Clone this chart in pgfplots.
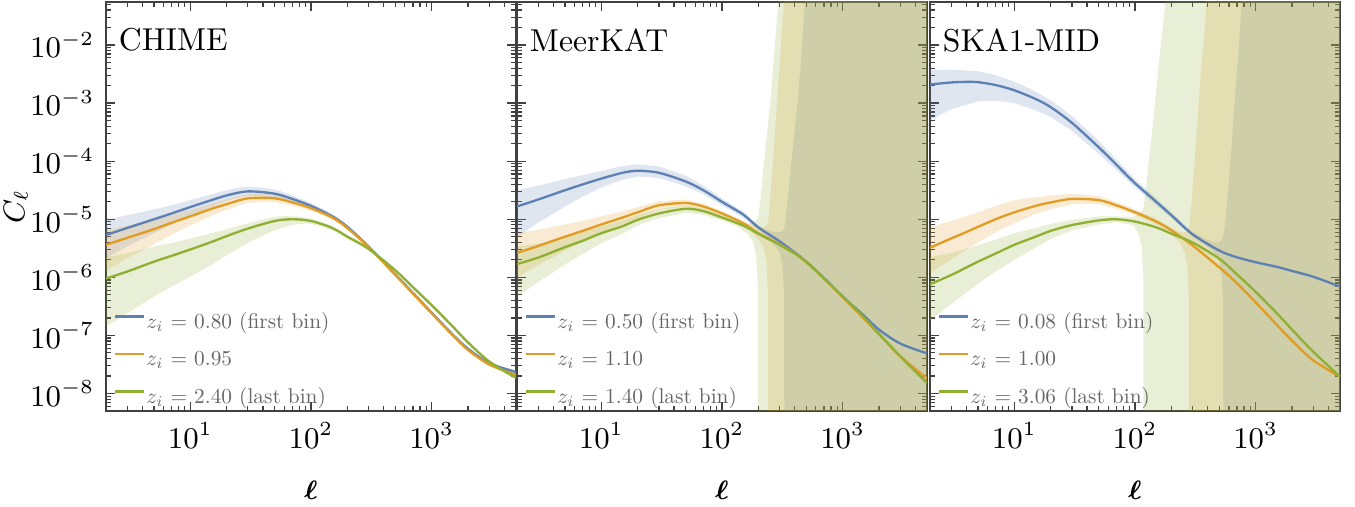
\documentclass[border=0pt]{standalone}
\usepackage{amsmath}
\usepackage{graphicx}
\usepackage{pgfplots}
\pgfplotsset{compat=1.18}
\usepackage{pgfplotstable}
\usepgfplotslibrary{fillbetween}

\definecolor{cb}{RGB}{94,129,181}
\definecolor{co}{RGB}{225,156,36}
\definecolor{cg}{RGB}{143,176,50}

% values are log10(C_ell)
\pgfplotstableread{
l b o g bh bl oh ol gh gl
2 -5.27 -5.44 -6.02 -5.01 -5.67 -5.19 -5.89 -5.65 -6.85
3 -5.15 -5.32 -5.90 -4.93 -5.47 -5.11 -5.67 -5.58 -6.62
5 -5.00 -5.17 -5.73 -4.83 -5.24 -5.01 -5.43 -5.47 -6.33
7 -4.90 -5.06 -5.63 -4.76 -5.09 -4.93 -5.26 -5.41 -6.16
10 -4.79 -4.95 -5.52 -4.67 -4.94 -4.84 -5.11 -5.33 -5.99
15 -4.67 -4.82 -5.39 -4.57 -4.79 -4.73 -4.94 -5.24 -5.78
20 -4.59 -4.74 -5.29 -4.50 -4.69 -4.66 -4.84 -5.17 -5.62
30 -4.52 -4.64 -5.16 -4.44 -4.60 -4.57 -4.72 -5.07 -5.41
50 -4.56 -4.64 -5.03 -4.49 -4.63 -4.58 -4.71 -4.96 -5.19
70 -4.65 -4.71 -5.00 -4.59 -4.71 -4.66 -4.77 -4.95 -5.10
100 -4.77 -4.81 -5.03 -4.72 -4.82 -4.77 -4.86 -4.99 -5.08
150 -4.95 -4.97 -5.15 -4.91 -4.99 -4.93 -5.01 -5.12 -5.19
200 -5.13 -5.15 -5.30 -5.10 -5.16 -5.12 -5.18 -5.27 -5.33
300 -5.47 -5.48 -5.51 -5.44 -5.50 -5.45 -5.51 -5.48 -5.54
500 -5.95 -5.96 -5.88 -5.92 -5.98 -5.93 -5.99 -5.85 -5.91
700 -6.27 -6.28 -6.17 -6.24 -6.30 -6.25 -6.31 -6.14 -6.20
1000 -6.61 -6.62 -6.48 -6.58 -6.64 -6.59 -6.65 -6.45 -6.51
1500 -6.99 -7.00 -6.85 -6.96 -7.02 -6.97 -7.03 -6.82 -6.88
2000 -7.23 -7.25 -7.12 -7.20 -7.26 -7.22 -7.28 -7.09 -7.15
3000 -7.48 -7.50 -7.45 -7.45 -7.51 -7.47 -7.53 -7.42 -7.48
5000 -7.63 -7.68 -7.73 -7.60 -7.66 -7.65 -7.71 -7.70 -7.76
}\pA

\pgfplotstableread{
l b o g
2 -4.78 -5.58 -5.77
3 -4.66 -5.46 -5.66
5 -4.50 -5.30 -5.48
7 -4.40 -5.20 -5.37
10 -4.30 -5.09 -5.24
15 -4.20 -4.97 -5.12
20 -4.165 -4.88 -5.01
30 -4.20 -4.76 -4.90
50 -4.35 -4.72 -4.82
70 -4.50 -4.78 -4.86
100 -4.70 -4.90 -4.97
150 -4.92 -5.07 -5.11
200 -5.14 -5.24 -5.25
300 -5.38 -5.43 -5.44
430 -5.62 -5.63 -5.63
500 -5.73 -5.74 -5.73
700 -6.01 -6.02 -6.02
1000 -6.33 -6.34 -6.33
1500 -6.66 -6.71 -6.69
2000 -6.90 -6.98 -6.97
3000 -7.14 -7.36 -7.36
5000 -7.31 -7.74 -7.82
}\pB

\pgfplotstableread{
l hi lo
2 -4.50 -5.31
3 -4.42 -5.06
5 -4.31 -4.78
7 -4.24 -4.61
10 -4.17 -4.45
15 -4.08 -4.32
20 -4.055 -4.265
30 -4.09 -4.29
50 -4.25 -4.43
70 -4.42 -4.57
100 -4.64 -4.76
150 -4.87 -4.97
200 -5.10 -5.18
225 -5.17 -5.27
272 -5.22 -5.44
300 -5.22 -5.57
317 -5.20 -5.80
327 -5.14 -6.31
330 -5.12 -12
343 -4.84 -12
363 -4.32 -12
385 -3.80 -12
415 -3.14 -12
448 -2.38 -12
484 -1.33 -12
544 0 -12
5000 0 -12
}\pBb

\pgfplotstableread{
l hi lo
2 -5.24 -6.00
3 -5.18 -5.79
5 -5.09 -5.54
7 -5.03 -5.39
10 -4.95 -5.24
15 -4.86 -5.09
20 -4.79 -4.98
30 -4.69 -4.84
50 -4.66 -4.78
70 -4.73 -4.83
100 -4.86 -4.94
150 -5.03 -5.11
165 -5.07 -5.17
200 -5.16 -5.34
220 -5.13 -5.48
233 -5.10 -5.70
240 -5.05 -6.20
242 -5.02 -12
251 -4.63 -12
266 -3.95 -12
282 -3.18 -12
299 -2.41 -12
323 -1.35 -12
355 0 -12
5000 0 -12
}\pBo

\pgfplotstableread{
l hi lo
2 -5.47 -6.34
3 -5.42 -6.08
5 -5.30 -5.78
7 -5.22 -5.60
10 -5.12 -5.41
15 -5.02 -5.25
20 -4.93 -5.11
30 -4.83 -4.98
50 -4.76 -4.89
70 -4.81 -4.92
100 -4.92 -5.02
136 -5.03 -5.13
165 -5.08 -5.26
182 -5.05 -5.40
192 -5.03 -5.63
198 -4.98 -6.15
200 -4.95 -12
208 -4.67 -12
220 -4.14 -12
233 -3.62 -12
252 -2.96 -12
272 -2.10 -12
294 -1.20 -12
330 0 -12
5000 0 -12
}\pBg

\pgfplotstableread{
l b o g
2 -2.68 -5.49 -6.12
3 -2.645 -5.33 -5.96
4 -2.635 -5.22 -5.83
5 -2.64 -5.13 -5.73
7 -2.69 -5.00 -5.59
10 -2.78 -4.88 -5.44
15 -2.93 -4.77 -5.30
20 -3.07 -4.71 -5.20
30 -3.34 -4.65 -5.10
50 -3.76 -4.67 -5.02
70 -4.06 -4.76 -5.00
100 -4.38 -4.88 -5.04
150 -4.70 -5.04 -5.14
200 -4.93 -5.19 -5.25
300 -5.26 -5.45 -5.40
500 -5.54 -5.83 -5.68
700 -5.655 -6.10 -5.95
1000 -5.74 -6.43 -6.25
1500 -5.82 -6.82 -6.62
2000 -5.89 -7.09 -6.90
3000 -5.99 -7.43 -7.28
5000 -6.16 -7.71 -7.71
}\pC

\pgfplotstableread{
l hi lo
2 -2.43 -3.30
3 -2.425 -3.105
5 -2.45 -2.97
7 -2.52 -2.96
10 -2.63 -3.00
15 -2.80 -3.12
20 -2.95 -3.24
30 -3.22 -3.48
50 -3.65 -3.87
70 -3.97 -4.15
100 -4.31 -4.45
150 -4.64 -4.76
200 -4.88 -4.98
300 -5.22 -5.30
369 -5.32 -5.42
447 -5.40 -5.56
493 -5.40 -5.66
521 -5.35 -5.95
537 -5.29 -6.46
542 -5.26 -12
563 -4.98 -12
597 -4.40 -12
632 -3.72 -12
682 -2.74 -12
724 -2.05 -12
766 -1.26 -12
860 0 -12
5000 0 -12
}\pCb

\pgfplotstableread{
l hi lo
2 -5.13 -5.93
3 -5.03 -5.69
5 -4.88 -5.40
7 -4.77 -5.22
10 -4.67 -5.07
15 -4.62 -4.91
20 -4.59 -4.83
30 -4.56 -4.74
50 -4.60 -4.74
70 -4.70 -4.82
100 -4.83 -4.93
150 -4.99 -5.09
192 -5.12 -5.22
233 -5.22 -5.39
256 -5.23 -5.56
271 -5.19 -5.79
279 -5.14 -6.30
282 -5.11 -12
293 -4.73 -12
310 -4.07 -12
329 -3.31 -12
349 -2.56 -12
376 -1.80 -12
391 -1.24 -12
436 0 -12
5000 0 -12
}\pCo

\pgfplotstableread{
l hi lo
2 -5.65 -6.74
3 -5.58 -6.46
5 -5.45 -6.11
7 -5.35 -5.90
10 -5.24 -5.70
15 -5.15 -5.49
20 -5.08 -5.34
30 -5.01 -5.19
50 -4.95 -5.09
70 -4.95 -5.05
97 -4.96 -5.10
107 -4.92 -5.25
113.5 -4.86 -5.46
117 -4.80 -5.97
118 -4.77 -12
123 -4.48 -12
130 -4.00 -12
138 -3.52 -12
149 -2.84 -12
160 -2.17 -12
180 -1.21 -12
202 0 -12
5000 0 -12
}\pCg

\pgfplotsset{
  every axis/.append style={
    scale only axis, width=123pt, height=122.7pt,
    xmode=log, ymode=log,
    xmin=2, xmax=5000, ymin=5e-9, ymax=5.5e-2,
    xtick={10,100,1000},
    minor xtick={3,4,5,6,7,8,9,20,30,40,50,60,70,80,90,200,300,400,500,600,700,800,900,2000,3000,4000,5000},
    ytick={1e-8,1e-7,1e-6,1e-5,1e-4,1e-3,1e-2},
    minor ytick={6e-9,7e-9,8e-9,9e-9,
      2e-8,3e-8,4e-8,5e-8,6e-8,7e-8,8e-8,9e-8,
      2e-7,3e-7,4e-7,5e-7,6e-7,7e-7,8e-7,9e-7,
      2e-6,3e-6,4e-6,5e-6,6e-6,7e-6,8e-6,9e-6,
      2e-5,3e-5,4e-5,5e-5,6e-5,7e-5,8e-5,9e-5,
      2e-4,3e-4,4e-4,5e-4,6e-4,7e-4,8e-4,9e-4,
      2e-3,3e-3,4e-3,5e-3,6e-3,7e-3,8e-3,9e-3,
      2e-2,3e-2,4e-2,5e-2},
    tick align=inside,
    xtick pos=both, ytick pos=both,
    major tick length=2.8pt, minor tick length=1.5pt,
    axis line style={black!75, line width=0.45pt},
    tick style={black!75, line width=0.35pt},
    tick label style={font=\fontsize{9}{10}\selectfont},
    xlabel={$\boldsymbol{\ell}$},
    xlabel style={at={(axis description cs:0.5,-0.193)}, anchor=center, font=\fontsize{8}{9}\selectfont},
    legend cell align=left,
    legend style={at={(rel axis cs:0.018,0.0)}, anchor=south west, draw=none, fill=none,
      inner sep=0pt, row sep=4.2pt, nodes={inner sep=0.5pt},
      font=\color{black!60}\fontsize{10}{12}\selectfont,
      /tikz/every even column/.append style={column sep=3pt}},
  },
}
\newcommand{\legtxt}[1]{\scalebox{0.64}{#1}}

\begin{document}
\begin{tikzpicture}
% ---------- CHIME ----------
\begin{axis}[at={(0pt,0pt)},
  legend image code/.code={\draw[#1] (0pt,2pt) -- (8.5pt,2pt);},
  ylabel={$C_{\ell}$},
  ylabel style={at={(axis description cs:-0.22,0.5)}, anchor=center, font=\fontsize{9}{10}\selectfont}]
  \addplot[draw=none, forget plot, smooth, name path=bh1] table[x=l, y expr=10^(\thisrow{bh})] {\pA};
  \addplot[draw=none, forget plot, smooth, name path=bl1] table[x=l, y expr=10^(\thisrow{bl})] {\pA};
  \addplot[fill=cb, fill opacity=0.2, draw=none, forget plot] fill between[of=bh1 and bl1];
  \addplot[draw=none, forget plot, smooth, name path=oh1] table[x=l, y expr=10^(\thisrow{oh})] {\pA};
  \addplot[draw=none, forget plot, smooth, name path=ol1] table[x=l, y expr=10^(\thisrow{ol})] {\pA};
  \addplot[fill=co, fill opacity=0.2, draw=none, forget plot] fill between[of=oh1 and ol1];
  \addplot[draw=none, forget plot, smooth, name path=gh1] table[x=l, y expr=10^(\thisrow{gh})] {\pA};
  \addplot[draw=none, forget plot, smooth, name path=gl1] table[x=l, y expr=10^(\thisrow{gl})] {\pA};
  \addplot[fill=cg, fill opacity=0.2, draw=none, forget plot] fill between[of=gh1 and gl1];
  \addplot[cb, line width=0.7pt, smooth] table[x=l, y expr=10^(\thisrow{b})] {\pA};
  \addlegendentry{\legtxt{$z_i$ = 0.80 (first bin)}}
  \addplot[co, line width=0.7pt, smooth] table[x=l, y expr=10^(\thisrow{o})] {\pA};
  \addlegendentry{\legtxt{$z_i$ = 0.95}}
  \addplot[cg, line width=0.7pt, smooth] table[x=l, y expr=10^(\thisrow{g})] {\pA};
  \addlegendentry{\legtxt{$z_i$ = 2.40 (last bin)}}
  \node[anchor=north west, inner sep=0pt, font=\fontsize{9.5}{11}\selectfont] at (rel axis cs:0.03,0.937) {CHIME};
\end{axis}
% ---------- MeerKAT ----------
\begin{axis}[at={(123.3pt,0pt)}, yticklabels={},
  legend image code/.code={\draw[#1] (0pt,2pt) -- (8.5pt,2pt);}]
  \addplot[draw=none, forget plot, name path=bh2] table[x=l, y expr=10^(\thisrow{hi})] {\pBb};
  \addplot[draw=none, forget plot, name path=bl2] table[x=l, y expr=10^(\thisrow{lo})] {\pBb};
  \addplot[fill=cb, fill opacity=0.2, draw=none, forget plot] fill between[of=bh2 and bl2];
  \addplot[draw=none, forget plot, name path=oh2] table[x=l, y expr=10^(\thisrow{hi})] {\pBo};
  \addplot[draw=none, forget plot, name path=ol2] table[x=l, y expr=10^(\thisrow{lo})] {\pBo};
  \addplot[fill=co, fill opacity=0.2, draw=none, forget plot] fill between[of=oh2 and ol2];
  \addplot[draw=none, forget plot, name path=gh2] table[x=l, y expr=10^(\thisrow{hi})] {\pBg};
  \addplot[draw=none, forget plot, name path=gl2] table[x=l, y expr=10^(\thisrow{lo})] {\pBg};
  \addplot[fill=cg, fill opacity=0.2, draw=none, forget plot] fill between[of=gh2 and gl2];
  \addplot[cb, line width=0.7pt, smooth] table[x=l, y expr=10^(\thisrow{b})] {\pB};
  \addlegendentry{\legtxt{$z_i$ = 0.50 (first bin)}}
  \addplot[co, line width=0.7pt, smooth] table[x=l, y expr=10^(\thisrow{o})] {\pB};
  \addlegendentry{\legtxt{$z_i$ = 1.10}}
  \addplot[cg, line width=0.7pt, smooth] table[x=l, y expr=10^(\thisrow{g})] {\pB};
  \addlegendentry{\legtxt{$z_i$ = 1.40 (last bin)}}
  \node[anchor=north west, inner sep=0pt, font=\fontsize{9.5}{11}\selectfont] at (rel axis cs:0.03,0.937) {MeerKAT};
\end{axis}
% ---------- SKA1-MID ----------
\begin{axis}[at={(247.2pt,0pt)}, yticklabels={},
  legend image code/.code={\draw[#1] (0pt,2pt) -- (8.5pt,2pt);}]
  \addplot[draw=none, forget plot, name path=bh3] table[x=l, y expr=10^(\thisrow{hi})] {\pCb};
  \addplot[draw=none, forget plot, name path=bl3] table[x=l, y expr=10^(\thisrow{lo})] {\pCb};
  \addplot[fill=cb, fill opacity=0.2, draw=none, forget plot] fill between[of=bh3 and bl3];
  \addplot[draw=none, forget plot, name path=oh3] table[x=l, y expr=10^(\thisrow{hi})] {\pCo};
  \addplot[draw=none, forget plot, name path=ol3] table[x=l, y expr=10^(\thisrow{lo})] {\pCo};
  \addplot[fill=co, fill opacity=0.2, draw=none, forget plot] fill between[of=oh3 and ol3];
  \addplot[draw=none, forget plot, name path=gh3] table[x=l, y expr=10^(\thisrow{hi})] {\pCg};
  \addplot[draw=none, forget plot, name path=gl3] table[x=l, y expr=10^(\thisrow{lo})] {\pCg};
  \addplot[fill=cg, fill opacity=0.2, draw=none, forget plot] fill between[of=gh3 and gl3];
  \addplot[cb, line width=0.7pt, smooth] table[x=l, y expr=10^(\thisrow{b})] {\pC};
  \addlegendentry{\legtxt{$z_i$ = 0.08 (first bin)}}
  \addplot[co, line width=0.7pt, smooth] table[x=l, y expr=10^(\thisrow{o})] {\pC};
  \addlegendentry{\legtxt{$z_i$ = 1.00}}
  \addplot[cg, line width=0.7pt, smooth] table[x=l, y expr=10^(\thisrow{g})] {\pC};
  \addlegendentry{\legtxt{$z_i$ = 3.06 (last bin)}}
  \node[anchor=north west, inner sep=0pt, font=\fontsize{9.5}{11}\selectfont] at (rel axis cs:0.03,0.937) {SKA1-MID};
\end{axis}
\pgfresetboundingbox
\path[use as bounding box] (-31.8pt,-28.8pt) rectangle (374.7pt,123.3pt);
\end{tikzpicture}
\end{document}
